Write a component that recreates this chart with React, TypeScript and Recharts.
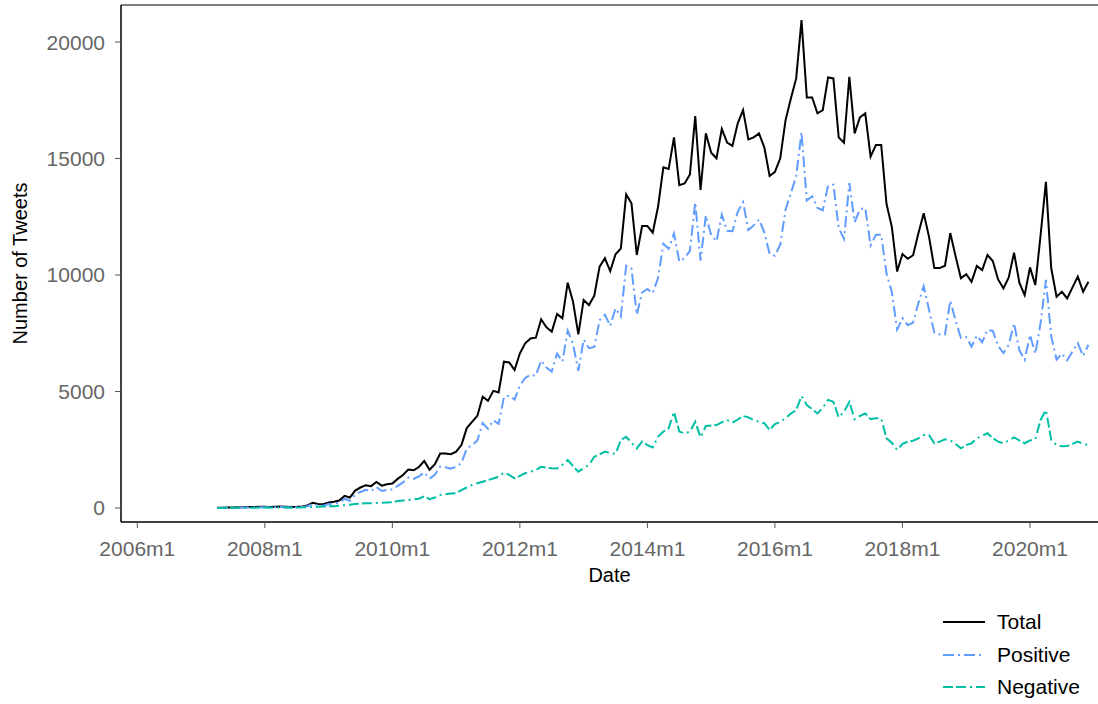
import { LineChart, Line, XAxis, YAxis, ReferenceLine } from 'recharts'

// monthly series, first month is 2007m4 (month index 15 counted from 2006m1)
const firstMonth = 15

const total = [
  10, 15, 20, 25, 30, 30, 40, 40, 50, 50,
  45, 55, 60, 50, 40, 50, 70, 110, 220, 170,
  160, 240, 270, 320, 520, 450, 750, 880, 980, 940,
  1120, 960, 1020, 1050, 1250, 1420, 1650, 1620, 1760, 2020,
  1640, 1880, 2340, 2340, 2310, 2420, 2700, 3430, 3700, 3960,
  4780, 4600, 5030, 4960, 6280, 6250, 5920, 6640, 7070, 7280,
  7310, 8100, 7760, 7570, 8330, 8140, 9670, 8850, 7450, 8930,
  8710, 9110, 10360, 10720, 10170, 10890, 11140, 13460, 13080, 10860,
  12100, 12100, 11820, 12930, 14620, 14550, 15910, 13860, 13930, 14320,
  16820, 13650, 16080, 15250, 15010, 16270, 15680, 15540, 16510, 17080,
  15820, 15910, 16080, 15480, 14250, 14430, 15010, 16650, 17580, 18440,
  20940, 17620, 17620, 16940, 17080, 18480, 18440, 15910, 15680, 18510,
  16080, 16770, 16940, 15080, 15580, 15580, 13050, 12070, 10150, 10900,
  10700, 10850, 11790, 12650, 11640, 10300, 10300, 10400, 11800, 10800,
  9860, 10040, 9710, 10390, 10210, 10860, 10600, 9810, 9430, 9900,
  10960, 9670, 9140, 10330, 9570, 11720, 14000, 10290, 9070, 9280,
  9000, 9470, 9930, 9280, 9710,
]

const positive = [
  5, 10, 12, 15, 20, 18, 25, 25, 32, 32,
  30, 35, 40, 32, 25, 30, 45, 75, 175, 120,
  100, 170, 190, 220, 400, 310, 580, 690, 780, 730,
  900, 730, 780, 800, 950, 1100, 1310, 1250, 1360, 1520,
  1260, 1430, 1780, 1750, 1690, 1780, 1930, 2550, 2710, 2900,
  3650, 3400, 3760, 3610, 4760, 4830, 4650, 5260, 5580, 5720,
  5680, 6330, 6030, 5860, 6630, 6290, 7610, 7050, 5890, 7230,
  6860, 6910, 8060, 8300, 7810, 8570, 8220, 10400, 10280, 8300,
  9250, 9400, 9220, 9870, 11340, 11130, 11780, 10580, 10730, 11040,
  13120, 10620, 12560, 11710, 11450, 12590, 11900, 11880, 12710, 13130,
  11930, 12130, 12380, 11840, 10900, 10830, 11310, 12800, 13520, 14240,
  16130, 13200, 13380, 12880, 12780, 13840, 13880, 12020, 11550, 13950,
  12270, 12820, 12880, 11270, 11730, 11730, 10060, 9270, 7660, 8150,
  7850, 7960, 8800, 9520, 8510, 7520, 7450, 7450, 8900, 8050,
  7300, 7340, 6930, 7400, 7110, 7650, 7600, 6960, 6650, 7000,
  7930, 6770, 6360, 7430, 6620, 7940, 9790, 7370, 6370, 6630,
  6340, 6720, 7080, 6530, 7010,
]

const negative = [
  5, 5, 8, 10, 10, 12, 15, 15, 18, 18,
  15, 20, 20, 18, 15, 20, 25, 35, 45, 50,
  60, 70, 80, 100, 120, 140, 170, 190, 200, 210,
  220, 230, 240, 250, 300, 320, 340, 370, 400, 500,
  380, 450, 560, 590, 620, 640, 770, 880, 990, 1060,
  1130, 1200, 1270, 1350, 1520, 1420, 1270, 1380, 1490, 1560,
  1630, 1770, 1730, 1710, 1700, 1850, 2060, 1800, 1560, 1700,
  1850, 2200, 2300, 2420, 2360, 2320, 2920, 3060, 2800, 2560,
  2850, 2700, 2600, 3060, 3280, 3420, 4130, 3280, 3200, 3280,
  3700, 3030, 3520, 3540, 3560, 3680, 3780, 3660, 3800, 3950,
  3890, 3780, 3700, 3640, 3350, 3600, 3700, 3850, 4060, 4200,
  4810, 4420, 4240, 4060, 4300, 4640, 4560, 3890, 4130, 4560,
  3810, 3950, 4060, 3810, 3850, 3850, 2990, 2800, 2490, 2750,
  2850, 2890, 2990, 3130, 3130, 2780, 2850, 2950, 2900, 2750,
  2560, 2700, 2780, 2990, 3100, 3210, 3000, 2850, 2780, 2900,
  3030, 2900, 2780, 2900, 2950, 3780, 4210, 2920, 2700, 2650,
  2660, 2750, 2850, 2750, 2700,
]

const xTicks = [0, 24, 48, 72, 96, 120, 144, 168]
const xTickLabels = ['2006m1', '2008m1', '2010m1', '2012m1', '2014m1', '2016m1', '2018m1', '2020m1']
const yTicks = [0, 5000, 10000, 15000, 20000]

const series = [
  { key: 'total', name: 'Total', color: '#000000', dash: undefined },
  { key: 'positive', name: 'Positive', color: '#619CFF', dash: '11 4 2 4' },
  { key: 'negative', name: 'Negative', color: '#00BFA5', dash: '10 3 10 4 2 4' },
]

const font = '"Liberation Sans", Arial, sans-serif'
const Y_MAX = 21590

const data = total.map((t, i) => ({
  m: firstMonth + i,
  total: t,
  positive: positive[i],
  negative: negative[i],
}))

function LegendBox() {
  return (
    <div style={{ position: 'absolute', left: 943, top: 606, fontFamily: font, fontSize: 21, color: '#000' }}>
      {series.map((s) => (
        <div key={s.key} style={{ display: 'flex', alignItems: 'center', height: 32.5 }}>
          <svg width={54} height={20}>
            <line x1={0} y1={10} x2={42} y2={10} stroke={s.color} strokeWidth={2} strokeDasharray={s.dash} />
          </svg>
          <span>{s.name}</span>
        </div>
      ))}
    </div>
  )
}

export default function App() {
  return (
    <div style={{ position: 'absolute', left: 0, top: 0, width: 1098, height: 704, background: '#fff' }}>
      <LineChart width={1098} height={704} data={data} margin={{ top: 5, right: 0, left: 0, bottom: 122 }}>
        <XAxis
          dataKey="m"
          type="number"
          domain={[-3.07, 180.8]}
          allowDataOverflow
          ticks={xTicks}
          tickFormatter={(v: number) => xTickLabels[xTicks.indexOf(v)]}
          height={60}
          tickSize={6}
          tickMargin={13}
          tick={{ fill: '#666', fontSize: 21, fontFamily: font }}
          tickLine={{ stroke: '#555' }}
          axisLine={{ stroke: '#000', strokeWidth: 1.5 }}
          label={{ value: 'Date', position: 'insideBottom', offset: 0, fill: '#000', fontSize: 20, fontFamily: font }}
        />
        <YAxis
          type="number"
          domain={[-600, Y_MAX]}
          allowDataOverflow
          ticks={yTicks}
          width={121}
          tickSize={6}
          tickMargin={10}
          tick={{ fill: '#666', fontSize: 21, fontFamily: font }}
          tickLine={{ stroke: '#555' }}
          axisLine={{ stroke: '#000', strokeWidth: 1.5 }}
          label={{
            value: 'Number of Tweets',
            angle: -90,
            position: 'insideLeft',
            offset: 20,
            fill: '#000',
            fontSize: 20,
            fontFamily: font,
            style: { textAnchor: 'middle' },
          }}
        />
        <ReferenceLine y={Y_MAX} stroke="#000" strokeWidth={1.2} />
        {series.map((s) => (
          <Line
            key={s.key}
            dataKey={s.key}
            name={s.name}
            stroke={s.color}
            strokeWidth={2}
            strokeDasharray={s.dash}
            dot={false}
            isAnimationActive={false}
          />
        ))}
      </LineChart>
      <LegendBox />
    </div>
  )
}
